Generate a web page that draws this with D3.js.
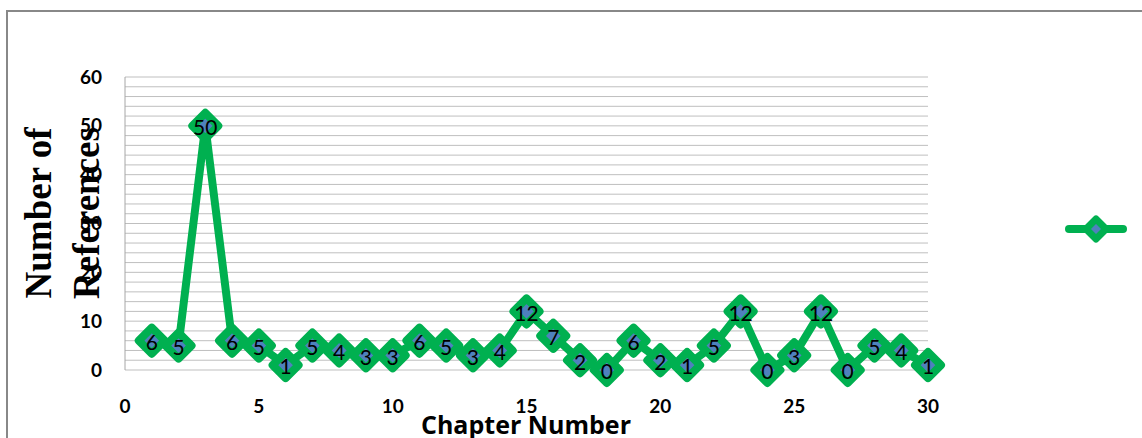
<!DOCTYPE html>
<html>
<head>
<meta charset="utf-8">
<script src="https://cdn.jsdelivr.net/npm/d3@7"></script>
<style>
  body { margin: 0; background: #fff; }
  svg { display: block; }
</style>
</head>
<body>
<script>
// chapter numbers and reference counts
var chapters = d3.range(1, 31);
var refs = [6, 5, 50, 6, 5, 1, 5, 4, 3, 3, 6, 5, 3, 4, 12, 7, 2, 0, 6, 2, 1, 5, 12, 0, 3, 12, 0, 5, 4, 1];
var xTicks = [0, 5, 10, 15, 20, 25, 30];
var yTicks = [0, 10, 20, 30, 40, 50, 60];
var yMinor = d3.range(0, 61, 2);

var W = 1142, H = 438;
var margin = { left: 125, top: 77, right: 1142 - 928, bottom: 438 - 370 };
var width = W - margin.left - margin.right,
    height = H - margin.top - margin.bottom;

var green = "#00B050", blue = "#4F81BD";

var svg = d3.select("body").append("svg")
    .attr("width", W)
    .attr("height", H);

// outer frame (only top and left visible)
svg.append("line").attr("x1", 7).attr("x2", W).attr("y1", 11).attr("y2", 11)
    .attr("stroke", "#888").attr("stroke-width", 2);
svg.append("line").attr("x1", 7).attr("x2", 7).attr("y1", 10).attr("y2", H)
    .attr("stroke", "#888").attr("stroke-width", 2);

var g = svg.append("g")
    .attr("transform", "translate(" + margin.left + "," + margin.top + ")");

var x = d3.scaleLinear().domain([0, 30]).range([0, width]);
var y = d3.scaleLinear().domain([0, 60]).range([height, 0]);

// gridlines every 2
g.selectAll(".grid")
    .data(yMinor)
    .enter().append("line")
    .attr("x1", 0).attr("x2", width)
    .attr("y1", d => y(d)).attr("y2", d => y(d))
    .attr("stroke", "#bfbfbf").attr("stroke-width", 1);

g.append("line").attr("x1", 0).attr("x2", 0).attr("y1", 0).attr("y2", height)
    .attr("stroke", "#a6a6a6");

// y tick labels
g.selectAll(".ylab")
    .data(yTicks)
    .enter().append("text")
    .attr("x", -23).attr("y", d => y(d))
    .attr("dy", "0.35em")
    .attr("text-anchor", "end")
    .style("font", "bold 19px Lato, 'Open Sans', sans-serif")
    .text(d => d);

// x tick labels
g.selectAll(".xlab")
    .data(xTicks)
    .enter().append("text")
    .attr("x", d => x(d)).attr("y", height + 43)
    .attr("text-anchor", "middle")
    .style("font", "bold 19px Lato, 'Open Sans', sans-serif")
    .text(d => d);

// axis titles
svg.append("text")
    .attr("x", 526).attr("y", 434)
    .attr("text-anchor", "middle")
    .style("font", "bold 25px 'Open Sans', Lato, sans-serif")
    .text("Chapter Number");

var yt = svg.append("text")
    .attr("transform", "translate(51,213) rotate(-90)")
    .attr("text-anchor", "middle")
    .style("font", "bold 37px 'Liberation Serif', 'DejaVu Serif', serif");
yt.append("tspan").attr("x", 0).attr("y", 0).text("Number of");
yt.append("tspan").attr("x", 0).attr("y", 48).text("References");

// line
var line = d3.line()
    .x((d, i) => x(chapters[i]))
    .y(d => y(d));

g.append("path")
    .datum(refs)
    .attr("d", line)
    .attr("fill", "none")
    .attr("stroke", green)
    .attr("stroke-width", 8)
    .attr("stroke-linejoin", "round");

var diamond = "M0,-13L13,0L0,13L-13,0Z";

g.selectAll(".pt")
    .data(refs)
    .enter().append("path")
    .attr("d", diamond)
    .attr("transform", (d, i) => "translate(" + x(chapters[i]) + "," + y(d) + ")")
    .attr("fill", blue)
    .attr("stroke", green)
    .attr("stroke-width", 8)
    .attr("stroke-linejoin", "round");

g.selectAll(".lbl")
    .data(refs)
    .enter().append("text")
    .attr("x", (d, i) => x(chapters[i]))
    .attr("y", d => y(d) + 2)
    .attr("dy", "0.35em")
    .attr("text-anchor", "middle")
    .style("font", "21px Lato, 'Open Sans', sans-serif")
    .attr("fill", "#000")
    .text(d => d);

// legend (marker only)
var lg = svg.append("g").attr("transform", "translate(1096,229)");
lg.append("line").attr("x1", -27).attr("x2", 27)
    .attr("stroke", green).attr("stroke-width", 8).attr("stroke-linecap", "round");
lg.append("path").attr("d", "M0,-10L10,0L0,10L-10,0Z")
    .attr("fill", blue).attr("stroke", green).attr("stroke-width", 7)
    .attr("stroke-linejoin", "round");
</script>
</body>
</html>
